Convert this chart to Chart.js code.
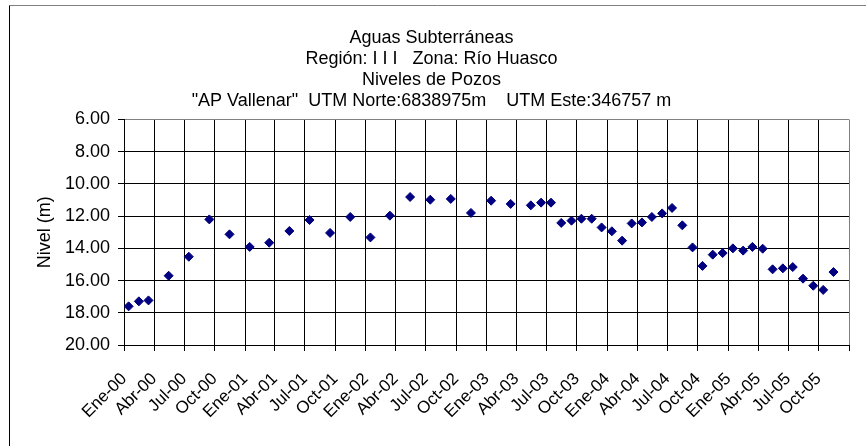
<!DOCTYPE html>
<html>
<head>
<meta charset="utf-8">
<script src="https://cdn.jsdelivr.net/npm/chart.js@4/dist/chart.umd.min.js"></script>
<style>
  html, body { margin: 0; padding: 0; background: #fff; }
  canvas { display: block; }
</style>
</head>
<body>
<canvas id="nivelChart" width="866" height="446"></canvas>
<script>
// Fechas de medición y nivel del pozo (m)
const fechas = [
    '2000-01-15', '2000-02-15', '2000-03-15', '2000-05-15', '2000-07-15', '2000-09-15', '2000-11-15',
    '2001-01-15', '2001-03-15', '2001-05-15', '2001-07-15', '2001-09-15', '2001-11-15',
    '2002-01-15', '2002-03-15', '2002-05-15', '2002-07-15', '2002-09-15', '2002-11-15',
    '2003-01-15', '2003-03-15', '2003-05-15', '2003-06-15', '2003-07-15', '2003-08-15',
    '2003-09-15', '2003-10-15', '2003-11-15', '2003-12-15',
    '2004-01-15', '2004-02-15', '2004-03-15', '2004-04-15', '2004-05-15', '2004-06-15',
    '2004-07-15', '2004-08-15', '2004-09-15', '2004-10-15', '2004-11-15', '2004-12-15',
    '2005-01-15', '2005-02-15', '2005-03-15', '2005-04-15', '2005-05-15', '2005-06-15',
    '2005-07-15', '2005-08-15', '2005-09-15', '2005-10-15', '2005-11-15'
];

const niveles = [
    17.60, 17.29, 17.23, 15.70, 14.52, 12.20, 13.13,
    13.91, 13.65, 12.92, 12.24, 13.04, 12.05,
    13.32, 11.97, 10.81, 10.98, 10.93, 11.80,
    11.04, 11.24, 11.33, 11.16, 11.16, 12.42,
    12.28, 12.16, 12.16, 12.70,
    12.94, 13.52, 12.45, 12.39, 12.05, 11.83,
    11.49, 12.57, 13.94, 15.09, 14.39, 14.29,
    14.00, 14.14, 13.91, 14.02, 15.30, 15.24,
    15.16, 15.88, 16.32, 16.58, 15.47
];

// Marcas trimestrales del eje X
const etiquetasX = [
    'Ene-00', 'Abr-00', 'Jul-00', 'Oct-00',
    'Ene-01', 'Abr-01', 'Jul-01', 'Oct-01',
    'Ene-02', 'Abr-02', 'Jul-02', 'Oct-02',
    'Ene-03', 'Abr-03', 'Jul-03', 'Oct-03',
    'Ene-04', 'Abr-04', 'Jul-04', 'Oct-04',
    'Ene-05', 'Abr-05', 'Jul-05', 'Oct-05'
];

const titulo = [
    'Aguas Subterráneas',
    'Región: I I I   Zona: Río Huasco',
    'Niveles de Pozos',
    '"AP Vallenar"  UTM Norte:6838975m    UTM Este:346757 m'
];

const DIA = 86400000;
const origen = Date.UTC(2000, 0, 1);

function diasDesdeOrigen(y, m, d) {
    return (Date.UTC(y, m, d) - origen) / DIA;
}

// posiciones de las marcas: inicio de cada trimestre, Ene-00 a Ene-06
const marcasX = [];
for (let q = 0; q <= 24; q++) {
    marcasX.push(diasDesdeOrigen(2000 + Math.floor(q / 4), (q % 4) * 3, 1));
}

const puntos = fechas.map(function(f, i) {
    const p = f.split('-').map(Number);
    return { x: diasDesdeOrigen(p[0], p[1] - 1, p[2]), y: niveles[i] };
});

const fuente = "'Liberation Sans', Arial, sans-serif";

// fondo blanco y marco exterior del gráfico
const marcoPlugin = {
    id: 'marco',
    beforeDraw: function(chart) {
        const ctx = chart.ctx;
        ctx.save();
        ctx.fillStyle = '#fff';
        ctx.fillRect(0, 0, chart.width, chart.height);
        ctx.lineWidth = 1;
        ctx.strokeStyle = '#808080';
        ctx.beginPath();
        ctx.moveTo(9.5, 5.5);
        ctx.lineTo(chart.width, 5.5);
        ctx.stroke();
        ctx.strokeStyle = '#000';
        ctx.beginPath();
        ctx.moveTo(9.5, 5.5);
        ctx.lineTo(9.5, chart.height);
        ctx.stroke();
        ctx.restore();
    }
};

const ctx = document.getElementById('nivelChart').getContext('2d');

new Chart(ctx, {
    type: 'scatter',
    data: {
        datasets: [{
            label: 'Nivel',
            data: puntos,
            pointStyle: 'rectRot',
            pointRadius: 4.5,
            pointBackgroundColor: '#000080',
            pointBorderColor: '#000080',
            pointBorderWidth: 1
        }]
    },
    options: {
        responsive: false,
        animation: false,
        layout: {
            padding: { left: 14, right: 17, top: 0, bottom: 0 }
        },
        plugins: {
            legend: { display: false },
            tooltip: { enabled: false },
            title: {
                display: true,
                text: titulo,
                color: '#000',
                font: { family: fuente, size: 18, weight: 'normal', lineHeight: 1.16 },
                padding: { top: 28, bottom: 8 }
            }
        },
        scales: {
            x: {
                type: 'linear',
                min: 0,
                max: marcasX[marcasX.length - 1],
                afterBuildTicks: function(scale) {
                    scale.ticks = marcasX.map(function(v) { return { value: v }; });
                },
                afterFit: function(scale) {
                    scale.height = 101;
                    scale.paddingLeft = 0;
                    scale.paddingRight = 0;
                },
                ticks: {
                    autoSkip: false,
                    minRotation: 45,
                    maxRotation: 45,
                    padding: 18,
                    color: '#000',
                    font: { family: fuente, size: 17 },
                    callback: function(value, index) {
                        return etiquetasX[index] || '';
                    }
                },
                grid: {
                    color: function(c) {
                        return c.index === marcasX.length - 1 ? '#808080' : '#000';
                    },
                    lineWidth: 1,
                    tickLength: 6,
                    tickColor: '#000'
                },
                border: { color: '#000', width: 1 }
            },
            y: {
                reverse: true,
                min: 6,
                max: 20,
                afterFit: function(scale) {
                    scale.width = 110;
                    scale.paddingTop = 0;
                    scale.paddingBottom = 0;
                },
                ticks: {
                    stepSize: 2,
                    padding: 8,
                    color: '#000',
                    font: { family: fuente, size: 18 },
                    callback: function(value) {
                        return value.toFixed(2);
                    }
                },
                grid: {
                    color: function(c) {
                        return c.tick && c.tick.value === 6 ? '#808080' : '#000';
                    },
                    lineWidth: 1,
                    tickLength: 6,
                    tickColor: '#000'
                },
                border: { color: '#000', width: 1 },
                title: {
                    display: true,
                    text: 'Nivel (m)',
                    color: '#000',
                    font: { family: fuente, size: 18 },
                    padding: { top: 20, bottom: 0 }
                }
            }
        }
    },
    plugins: [marcoPlugin]
});
</script>
</body>
</html>
